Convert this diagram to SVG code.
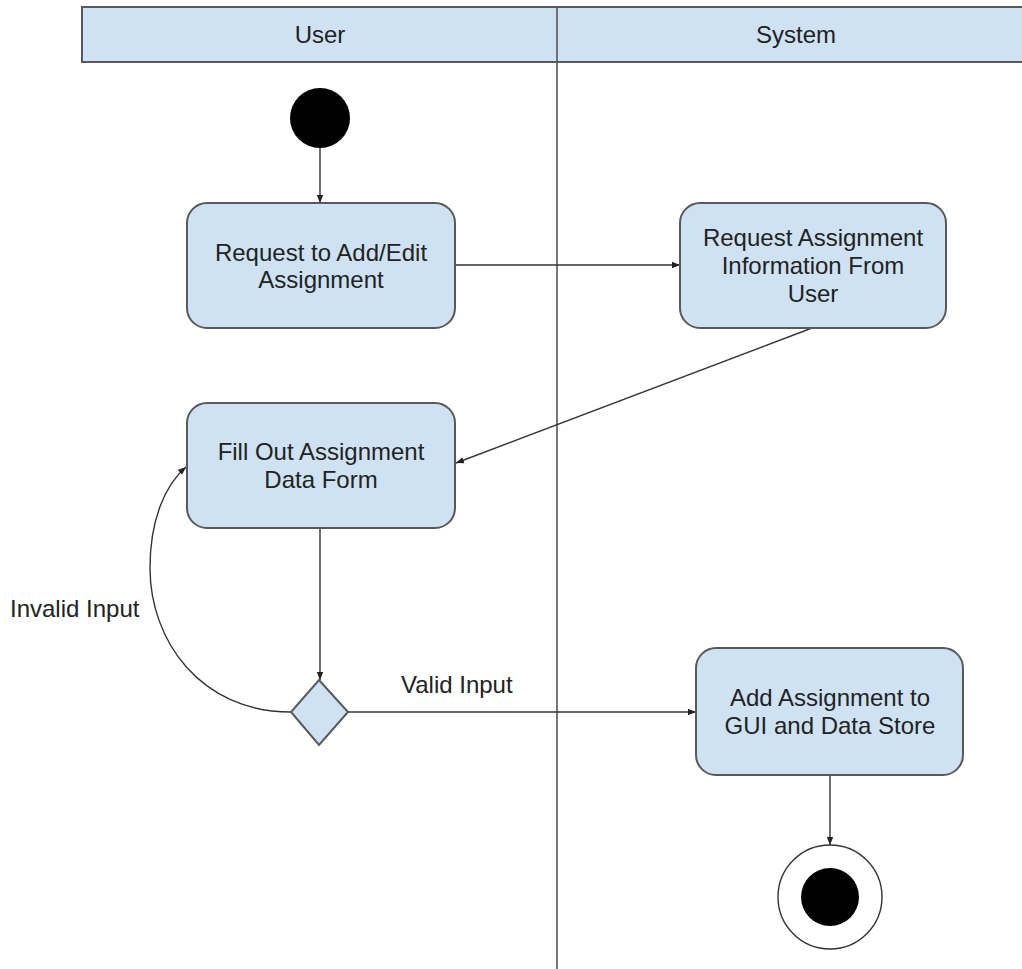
<svg xmlns="http://www.w3.org/2000/svg" width="1022" height="969" viewBox="0 0 1022 969">
  <style>
    .lane { fill: #cfe2f3; stroke: #595959; stroke-width: 2; }
    .act { fill: #cfe2f3; stroke: #595959; stroke-width: 2; }
    .label { font-family: "Liberation Sans", Arial, sans-serif; font-size: 24px; fill: #222; text-anchor: middle; }
    .free { font-family: "Liberation Sans", Arial, sans-serif; font-size: 24px; fill: #222; }
    .edge { fill: none; stroke: #333; stroke-width: 1.4; marker-end: url(#arrow); }
    .divider { stroke: #555; stroke-width: 1.6; }
  </style>
  <defs>
    <marker id="arrow" markerUnits="userSpaceOnUse" markerWidth="9" markerHeight="8" refX="8" refY="4" orient="auto">
      <path d="M0,0.8 L8,4 L0,7.2 Z" fill="#222"/>
    </marker>
  </defs>
  <rect width="1022" height="969" fill="#ffffff"/>

  <!-- swimlane header -->
  <g id="lanes">
    <rect class="lane" x="82" y="7" width="960" height="55"/>
    <line class="divider" x1="557" y1="7" x2="557" y2="969"/>
    <text class="label" x="320" y="43">User</text>
    <text class="label" x="796" y="43">System</text>
  </g>

  <!-- connectors -->
  <g id="connectors">
    <path class="edge" d="M320,148 L320,203"/>
    <path class="edge" d="M455,265 L680,265"/>
    <path class="edge" d="M812,328 L456,463"/>
    <path class="edge" d="M320,528 L320,680"/>
    <path class="edge" d="M291,712 C200,712 150,640 150,568 C150,520 165,485 186,467"/>
    <path class="edge" d="M348,712 L696,712"/>
    <path class="edge" d="M830,775 L830,845"/>
    <text class="free" x="10" y="617">Invalid Input</text>
    <text class="free" x="401" y="693">Valid Input</text>
  </g>

  <g id="start">
    <circle cx="320" cy="118" r="30" fill="#000"/>
  </g>

  <g id="request-add-edit">
    <rect class="act" x="187" y="203" width="268" height="125" rx="20"/>
    <text class="label" x="321" y="261">Request to Add/Edit</text>
    <text class="label" x="321" y="288">Assignment</text>
  </g>

  <g id="request-info">
    <rect class="act" x="680" y="203" width="266" height="125" rx="20"/>
    <text class="label" x="813" y="246">Request Assignment</text>
    <text class="label" x="813" y="274">Information From</text>
    <text class="label" x="813" y="302">User</text>
  </g>

  <g id="fill-form">
    <rect class="act" x="187" y="403" width="268" height="125" rx="20"/>
    <text class="label" x="321" y="460">Fill Out Assignment</text>
    <text class="label" x="321" y="488">Data Form</text>
  </g>

  <g id="decision">
    <polygon class="act" points="319,680 348,712 319,745 291,712"/>
  </g>

  <g id="add-assignment">
    <rect class="act" x="696" y="648" width="267" height="127" rx="20"/>
    <text class="label" x="830" y="706">Add Assignment to</text>
    <text class="label" x="830" y="734">GUI and Data Store</text>
  </g>

  <g id="end">
    <circle cx="830" cy="897" r="52" fill="#fff" stroke="#333" stroke-width="1.4"/>
    <circle cx="830" cy="897" r="29" fill="#000"/>
  </g>
</svg>
